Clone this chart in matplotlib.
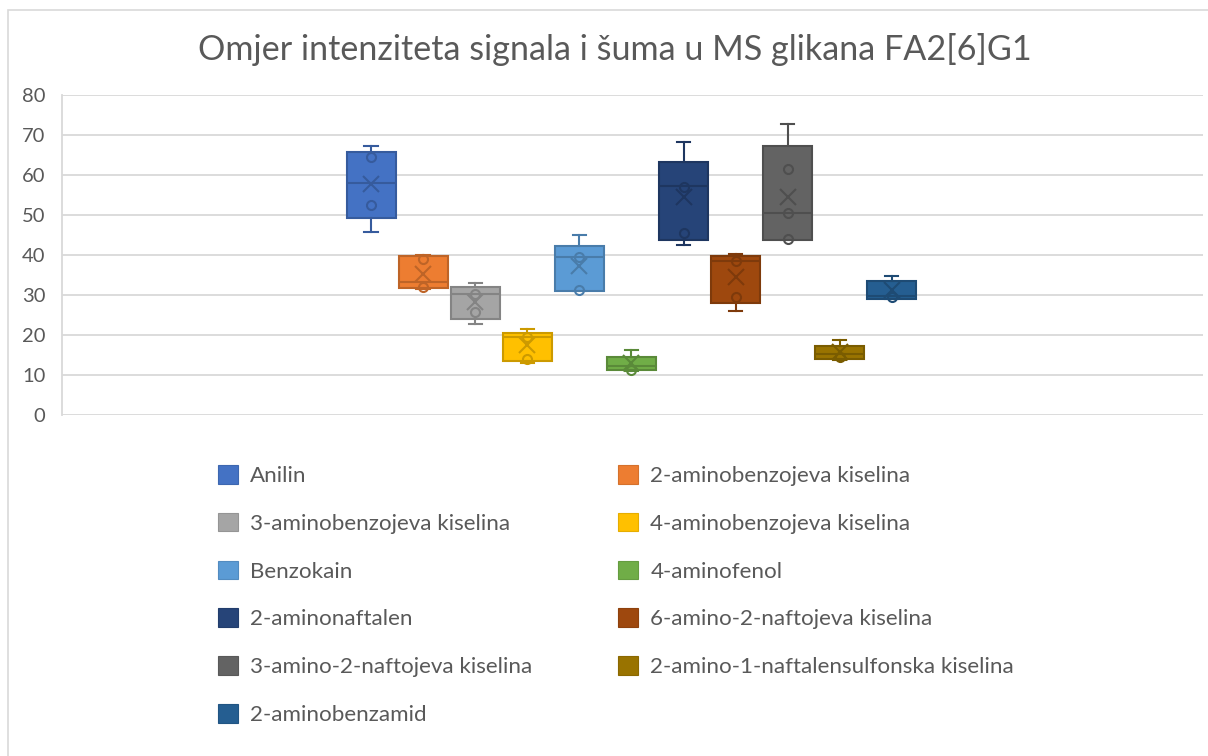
import numpy as np
import matplotlib.pyplot as plt
from matplotlib.patches import Patch, Rectangle
import matplotlib.colors as mcolors

plt.rcParams['font.family'] = ['Lato', 'DejaVu Sans']

# ---- podaci (očitano s grafa) ----
names = ['Anilin', '2-aminobenzojeva kiselina', '3-aminobenzojeva kiselina',
         '4-aminobenzojeva kiselina', 'Benzokain', '4-aminofenol',
         '2-aminonaftalen', '6-amino-2-naftojeva kiselina',
         '3-amino-2-naftojeva kiselina', '2-amino-1-naftalensulfonska kiselina',
         '2-aminobenzamid']
colors = ['#4472C4', '#ED7D31', '#A5A5A5', '#FFC000', '#5B9BD5', '#70AD47',
          '#264478', '#9E480E', '#636363', '#997300', '#255E91']

whis_lo = [45.8, 31.4, 22.7, 12.9, 31.0, 11.1, 42.4, 25.9, 43.7, 13.8, 29.0]
q1      = [49.2, 31.8, 23.9, 13.6, 31.0, 11.2, 43.8, 27.9, 43.7, 14.0, 29.0]
median  = [57.9, 33.3, 30.2, 19.6, 39.5, 12.3, 57.2, 38.6, 50.5, 15.2, 29.8]
q3      = [65.8, 39.7, 32.1, 20.6, 42.3, 14.6, 63.3, 39.8, 67.3, 17.3, 33.5]
whis_hi = [67.2, 40.1, 33.1, 21.5, 44.9, 16.2, 68.2, 40.2, 72.7, 18.8, 34.7]
mean    = [57.8, 35.2, 28.3, 17.5, 37.3, 12.9, 54.4, 34.6, 54.4, 15.7, 31.3]
inner_pts = [[64.6, 52.5], [38.9, 32.1], [30.2, 25.7], [19.6, 14.1],
             [39.4, 31.3], [11.3], [57.0, 45.4], [38.6, 29.6],
             [61.5, 50.5, 43.9], [14.4], [29.6]]

TEXT = '#595959'
GRID = '#D9D9D9'

fig = plt.figure(figsize=(12.08, 7.56), dpi=100)
ax = fig.add_axes([62 / 1208, 1 - 415 / 756, 1141 / 1208, 320 / 756])

def darker(c, f=0.8):
    r, g, b = mcolors.to_rgb(c)
    return (r * f, g * f, b * f)

pos = np.arange(len(names))
for i, c in enumerate(colors):
    dc = darker(c)
    stats = [dict(whislo=whis_lo[i], q1=q1[i], med=median[i], q3=q3[i],
                  whishi=whis_hi[i], mean=mean[i])]
    ax.bxp(stats, positions=[pos[i]], widths=0.94, patch_artist=True,
           showmeans=False, showfliers=False,
           boxprops=dict(facecolor=c, edgecolor=dc, linewidth=1.5),
           medianprops=dict(color=dc, linewidth=1.5),
           whiskerprops=dict(color=dc, linewidth=1.5),
           capprops=dict(color=dc, linewidth=1.5), capwidths=0.26)
    ax.plot(pos[i], mean[i], marker='x', color=dc, markersize=11,
            markeredgewidth=1.5, zorder=4)
    ax.plot([pos[i]] * len(inner_pts[i]), inner_pts[i], linestyle='none',
            marker='o', markersize=6.5, markerfacecolor='none',
            markeredgecolor=dc, markeredgewidth=1.5, zorder=4)

ax.set_xlim(-5.94, 15.98)
ax.set_ylim(0, 80)
ax.set_yticks(range(0, 81, 10))
ax.set_xticks([])
ax.grid(axis='y', color=GRID, linewidth=1.3)
ax.set_axisbelow(True)
for s in ['top', 'right', 'bottom']:
    ax.spines[s].set_visible(False)
ax.spines['left'].set_color(GRID)
ax.spines['left'].set_linewidth(1.3)
ax.tick_params(axis='y', length=0, pad=12, labelsize=14.5, labelcolor=TEXT)

fig.text(0.509, 1 - 50 / 756, 'Omjer intenziteta signala i šuma u MS glikana FA2[6]G1',
         ha='center', va='center', fontsize=24.6, color=TEXT)

# legenda u dva stupca (redoslijed po recima)
handles = [Patch(facecolor=c, edgecolor=darker(c, 0.9), linewidth=0.8) for c in colors]
legend_kw = dict(frameon=False, fontsize=16.1, labelcolor=TEXT, handlelength=0.9,
                 handleheight=0.9, handletextpad=0.55, labelspacing=1.2,
                 borderpad=0, borderaxespad=0, loc='upper left')
leg1 = fig.legend(handles[0::2], names[0::2],
                  bbox_to_anchor=(218 / 1208, 1 - 465 / 756), **legend_kw)
leg2 = fig.legend(handles[1::2], names[1::2],
                  bbox_to_anchor=(618 / 1208, 1 - 465 / 756), **legend_kw)

# okvir grafa
fig.patches.append(Rectangle((8 / 1208, -0.1), 1.2, 1.1 - 10 / 756,
                             transform=fig.transFigure, fill=False,
                             edgecolor=GRID, linewidth=1.2))

fig.savefig('out.png', dpi=100)
